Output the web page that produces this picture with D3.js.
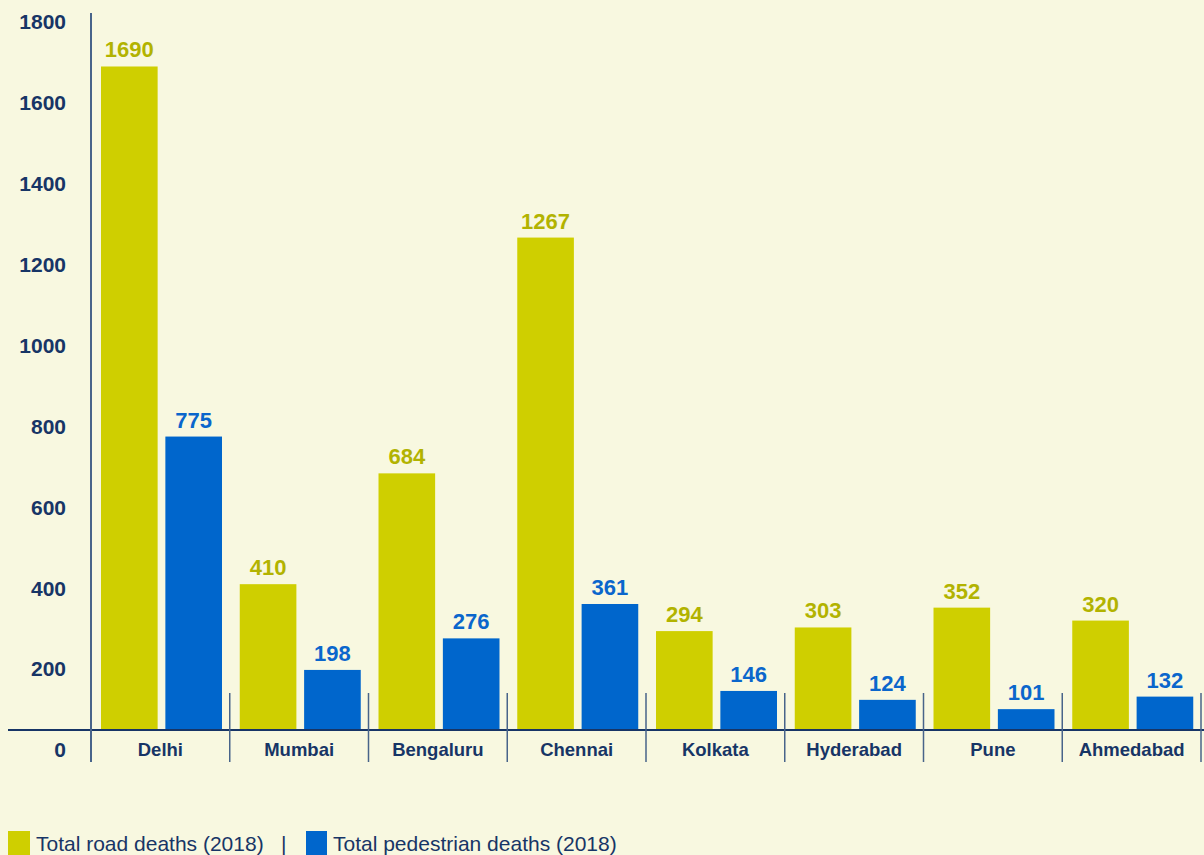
<!DOCTYPE html>
<html>
<head>
<meta charset="utf-8">
<script src="https://cdn.jsdelivr.net/npm/d3@7"></script>
<style>
  html, body { margin: 0; padding: 0; background: #f8f8e0; }
  svg { display: block; font-family: "Liberation Sans", Arial, Helvetica, sans-serif; }
</style>
</head>
<body>
<svg id="chart" width="1204" height="855"></svg>
<script>
"use strict";

// Datos
const cities = ["Delhi", "Mumbai", "Bengaluru", "Chennai", "Kolkata", "Hyderabad", "Pune", "Ahmedabad"];
const roadDeaths = [1690, 410, 684, 1267, 294, 303, 352, 320];
const pedestrianDeaths = [775, 198, 276, 361, 146, 124, 101, 132];
const yTicks = [0, 200, 400, 600, 800, 1000, 1200, 1400, 1600, 1800];
const seriesNames = ["Total road deaths (2018)", "Total pedestrian deaths (2018)"];

const W = 1204, H = 855;
const barColors = ["#cfcf00", "#0066cc"];
const labelColors = ["#b2b300", "#0a66cc"];
const navy = "#173566";
const lineColor = "#48648a";

const rows = cities.map((c, i) => ({ city: c, values: [roadDeaths[i], pedestrianDeaths[i]] }));

const svg = d3.select("#chart");

// Escalas
const x = d3.scaleBand().domain(cities).range([91, 1201]).padding(0);
const xs = d3.scaleBand().domain([0, 1]).range([10, 131]).paddingInner(0.12);
// En el original el "0" queda bajo la línea base; las barras arrancan en la línea base
const y = d3.scaleLinear().domain([0, 1800]).range([750, 22]);
const baseY = 730;

// Etiquetas del eje Y
svg.append("g")
  .selectAll("text")
  .data(yTicks)
  .join("text")
  .attr("x", 66)
  .attr("y", d => y(d))
  .attr("dy", "0.35em")
  .attr("text-anchor", "end")
  .attr("font-size", 21)
  .attr("font-weight", "bold")
  .attr("fill", navy)
  .text(d => d);

// Barras
const groups = svg.append("g")
  .selectAll("g")
  .data(rows)
  .join("g")
  .attr("transform", d => `translate(${x(d.city)},0)`);

groups.selectAll("rect")
  .data(d => d.values)
  .join("rect")
  .attr("x", (d, i) => xs(i))
  .attr("width", xs.bandwidth())
  .attr("y", d => y(d))
  .attr("height", d => baseY - y(d))
  .attr("fill", (d, i) => barColors[i]);

groups.selectAll("text.val")
  .data(d => d.values)
  .join("text")
  .attr("class", "val")
  .attr("x", (d, i) => xs(i) + xs.bandwidth() / 2)
  .attr("y", d => y(d) - 9)
  .attr("text-anchor", "middle")
  .attr("font-size", 22)
  .attr("font-weight", "bold")
  .attr("fill", (d, i) => labelColors[i])
  .text(d => d);

// Línea base y eje vertical
svg.append("line")
  .attr("x1", 8).attr("x2", W)
  .attr("y1", baseY).attr("y2", baseY)
  .attr("stroke", navy).attr("stroke-width", 2);

svg.append("line")
  .attr("x1", x.range()[0]).attr("x2", x.range()[0])
  .attr("y1", 13).attr("y2", 762)
  .attr("stroke", lineColor).attr("stroke-width", 2);

// Separadores entre ciudades
const edges = cities.slice(1).map(c => x(c)).concat([x.range()[1]]);
svg.append("g")
  .selectAll("line")
  .data(edges)
  .join("line")
  .attr("x1", d => d).attr("x2", d => d)
  .attr("y1", 693).attr("y2", 762)
  .attr("stroke", lineColor).attr("stroke-width", 1.5);

// Nombres de ciudades
svg.append("g")
  .selectAll("text")
  .data(cities)
  .join("text")
  .attr("x", d => x(d) + x.bandwidth() / 2)
  .attr("y", 750)
  .attr("dy", "0.35em")
  .attr("text-anchor", "middle")
  .attr("font-size", 18.5)
  .attr("font-weight", "bold")
  .attr("fill", navy)
  .text(d => d);

// Leyenda
const legend = svg.append("g").attr("font-size", 21).attr("fill", navy);
legend.append("rect").attr("x", 8).attr("y", 831).attr("width", 22).attr("height", 26).attr("fill", barColors[0]);
legend.append("text").attr("x", 36).attr("y", 851).text(seriesNames[0]);
legend.append("text").attr("x", 281).attr("y", 851).text("|");
legend.append("rect").attr("x", 306).attr("y", 831).attr("width", 21).attr("height", 26).attr("fill", barColors[1]);
legend.append("text").attr("x", 333).attr("y", 851).text(seriesNames[1]);
</script>
</body>
</html>
